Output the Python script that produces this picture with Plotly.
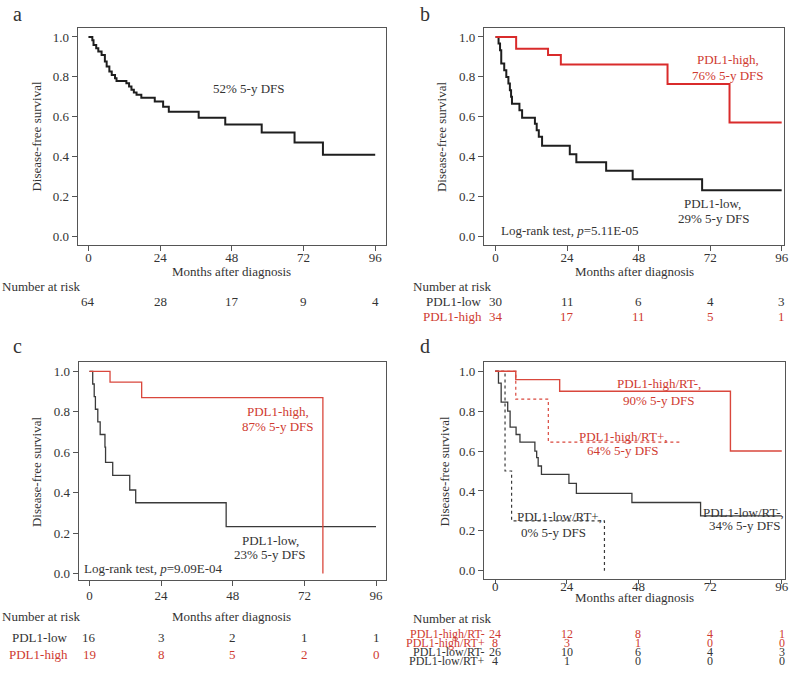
import plotly.graph_objects as go

W, H = 800, 674
FONT = "Liberation Serif, Times New Roman, serif"
TXT = "#333333"
RED_TXT = "#cf3a30"

# ---------------- data ----------------
ticks_month = [0, 24, 48, 72, 96]
y_ticks = [0.0, 0.2, 0.4, 0.6, 0.8, 1.0]

# panel a: all patients
a_t = [1.3, 1.7, 2.6, 3.3, 4.4, 5.5, 6.1, 7.0, 7.8, 8.9, 9.4, 12.7, 13.6, 14.4, 15.2, 16.1, 17.7,
       22.2, 25.0, 26.9, 36.9, 45.8, 58.0, 69.0, 78.5]
a_s = [0.984, 0.96, 0.943, 0.927, 0.91, 0.877, 0.852, 0.827, 0.81, 0.793, 0.78, 0.768, 0.752, 0.735,
       0.722, 0.71, 0.695, 0.677, 0.65, 0.625, 0.595, 0.562, 0.522, 0.472, 0.41]
a_end = 96
a_risk = [64, 28, 17, 9, 4]

# panel b
b_high_t = [6.9, 17.6, 21.9, 57.7, 78.5]
b_high_s = [0.941, 0.91, 0.862, 0.765, 0.572]
b_high_end = 96
b_low_t = [1.0, 1.5, 1.9, 2.9, 3.6, 4.3, 4.8, 5.2, 5.5, 8.0, 8.9, 13.2, 13.8, 14.5, 15.6, 24.9,
           27.1, 37.1, 46.0, 69.3]
b_low_s = [0.967, 0.933, 0.867, 0.833, 0.8, 0.767, 0.733, 0.7, 0.665, 0.633, 0.595, 0.565, 0.533,
           0.5, 0.455, 0.413, 0.372, 0.33, 0.287, 0.232]
b_low_end = 96
b_risk_low = [30, 11, 6, 4, 3]
b_risk_high = [34, 17, 11, 5, 1]

# panel c
c_high_t = [6.9, 17.5, 78.2]
c_high_s = [0.947, 0.87, 0.0]
c_low_t = [1.1, 1.6, 2.0, 2.8, 3.6, 5.2, 5.4, 7.8, 13.5, 15.5, 45.8]
c_low_s = [0.9375, 0.875, 0.8125, 0.75, 0.6875, 0.625, 0.55, 0.485, 0.413, 0.35, 0.232]
c_low_end = 96
c_risk_low = [16, 3, 2, 1, 1]
c_risk_high = [19, 8, 5, 2, 0]

# panel d
d_hm_t = [6.9, 21.6, 78.8]          # PDL1-high/RT-
d_hm_s = [0.958, 0.9, 0.6]
d_hm_end = 96
d_hp_t = [6.9, 17.8]                # PDL1-high/RT+
d_hp_s = [0.86, 0.645]
d_hp_end = 62.7
d_lm_t = [1.1, 2.0, 4.2, 5.0, 7.0, 8.3, 13.3, 13.9, 14.4, 15.5, 24.7, 27.2, 45.8, 68.8]  # PDL1-low/RT-
d_lm_s = [0.94, 0.845, 0.8, 0.72, 0.683, 0.645, 0.6, 0.567, 0.525, 0.483, 0.438, 0.388, 0.342, 0.275]
d_lm_end = 96
d_lp_t = [3.3, 5.5, 36.6]           # PDL1-low/RT+
d_lp_s = [0.5, 0.25, 0.0]
d_risk_names = ["PDL1-high/RT-", "PDL1-high/RT+", "PDL1-low/RT-", "PDL1-low/RT+"]
d_risk = [[24, 12, 8, 4, 1], [8, 3, 1, 0, 0], [26, 10, 6, 4, 3], [4, 1, 0, 0, 0]]

# ---------------- helpers ----------------
def px(x):
    return x / W

def py(y):
    return 1 - y / H

def km(t, s, end=None):
    xs = [0] + list(t)
    ys = [1.0] + list(s)
    if end is not None:
        xs.append(end)
        ys.append(ys[-1])
    return xs, ys

fig = go.Figure()

def add_curve(ax, t, s, end, color, width, dash="solid"):
    xs, ys = km(t, s, end)
    fig.add_trace(go.Scatter(x=xs, y=ys, mode="lines", line=dict(color=color, width=width, shape="hv", dash=dash),
                             xaxis="x" + ax, yaxis="y" + ax, showlegend=False, hoverinfo="skip"))

BLK = "#1e1e1e"
RED = "#d92b2b"
BLK2 = "#3a3a3a"
RED2 = "#d9473c"

add_curve("", a_t, a_s, a_end, BLK, 2.0)
add_curve("2", b_low_t, b_low_s, b_low_end, BLK, 2.0)
add_curve("2", b_high_t, b_high_s, b_high_end, RED, 2.0)
add_curve("3", c_low_t, c_low_s, c_low_end, BLK2, 1.3)
add_curve("3", c_high_t, c_high_s, None, RED2, 1.3)
add_curve("4", d_lm_t, d_lm_s, d_lm_end, BLK2, 1.3)
add_curve("4", d_lp_t, d_lp_s, None, BLK2, 1.2, "dot")
add_curve("4", d_hp_t, d_hp_s, d_hp_end, RED2, 1.2, "dot")
add_curve("4", d_hm_t, d_hm_s, d_hm_end, RED2, 1.4)

# ---------------- axes ----------------
panels = {
    "": dict(box=(78, 388, 28, 245), xr=(-3.66, 99.47), yr=(-0.04, 1.045), so=-4, tl=5),
    "2": dict(box=(487, 789, 28, 245), xr=(-3.9, 96.8), yr=(-0.04, 1.045), so=-4, tl=5),
    "3": dict(box=(79, 388, 363, 581), xr=(-3.66, 99.2), yr=(-0.033, 1.044), so=-2, tl=5),
    "4": dict(box=(487, 790, 363, 580), xr=(-3.76, 97.1), yr=(-0.042, 1.044), so=-9, tl=4),
}
ax_common = dict(showline=True, mirror=True, linecolor="#555555", linewidth=1, ticks="outside",
                 tickcolor="#555555", tickwidth=1, showgrid=False, zeroline=False,
                 tickfont=dict(family=FONT, size=13, color=TXT))
layout_axes = {}
for key, p in panels.items():
    x0, x1, y0, y1 = p["box"]
    xname = "xaxis" + key
    yname = "yaxis" + key
    layout_axes[xname] = dict(ax_common, domain=[px(x0), px(x1)], range=list(p["xr"]), ticklen=p["tl"],
                              tickvals=ticks_month, anchor="y" + key, ticklabelstandoff=p["so"])
    layout_axes[yname] = dict(ax_common, domain=[py(y1), py(y0)], range=list(p["yr"]), ticklen=5,
                              tickvals=y_ticks, tickformat=".1f", anchor="x" + key)
fig.update_layout(**layout_axes)

# ---------------- annotations ----------------
ann = []

def text(x, y, s, size=13, color=TXT, xanchor="center", angle=0):
    ann.append(dict(x=px(x), y=py(y), xref="paper", yref="paper", text=s, showarrow=False,
                    xanchor=xanchor, yanchor="middle", textangle=angle,
                    font=dict(family=FONT, size=size, color=color)))

# panel letters
text(18, 14, "a", 20)
text(428, 14, "b", 20)
text(18, 347, "c", 20)
text(428, 347, "d", 20)

# axis titles
for cx, cy in [(233, 272), (638, 272), (233, 617), (638, 598)]:
    text(cx, cy, "Months after diagnosis")
for cx, cy in [(37, 137), (445, 137), (37, 473), (447, 472)]:
    text(cx, cy, "Disease-free survival", angle=-90)

# in-plot labels
text(251, 89, "52% 5-y DFS")
text(733, 60, "PDL1-high,", color=RED_TXT)
text(733, 76, "76% 5-y DFS", color=RED_TXT)
text(717, 204, "PDL1-low,")
text(718, 219, "29% 5-y DFS")
text(502, 231, "Log-rank test, <i>p</i>=5.11E-05", xanchor="left")

text(280, 412, "PDL1-high,", color=RED_TXT)
text(280, 427, "87% 5-y DFS", color=RED_TXT)
text(272, 541, "PDL1-low,")
text(272, 555, "23% 5-y DFS")
text(83, 569, "Log-rank test, <i>p</i>=9.09E-04", xanchor="left")

text(663, 384, "PDL1-high/RT-,", color=RED_TXT)
text(663, 401, "90% 5-y DFS", color=RED_TXT)
text(627, 437, "PDL1-high/RT+,", color=RED_TXT)
text(627, 451, "64% 5-y DFS", color=RED_TXT)
text(563, 517, "PDL1-low/RT+,")
text(557, 533, "0% 5-y DFS")
text(748, 513, "PDL1-low/RT-,")
text(750, 526, "34% 5-y DFS")

# number at risk tables
text(0, 287, "Number at risk", xanchor="left")
text(414, 287, "Number at risk", xanchor="left")
text(0, 617, "Number at risk", xanchor="left")
text(414, 619, "Number at risk", xanchor="left")

def risk_row(axkey, y, vals, color, size=13):
    for m, v in zip(ticks_month, vals):
        ann.append(dict(x=m, y=py(y), xref="x" + axkey, yref="paper", text=str(v), showarrow=False,
                        xanchor="center", yanchor="middle", font=dict(family=FONT, size=size, color=color)))

risk_row("", 302, a_risk, TXT)

text(487, 302, "PDL1-low", xanchor="right")
text(487, 317, "PDL1-high", xanchor="right", color=RED_TXT)
risk_row("2", 302, b_risk_low, TXT)
risk_row("2", 317, b_risk_high, RED_TXT)

text(70, 638, "PDL1-low", xanchor="right")
text(70, 655, "PDL1-high", xanchor="right", color=RED_TXT)
risk_row("3", 638, c_risk_low, TXT)
risk_row("3", 655, c_risk_high, RED_TXT)

d_rows_y = [635, 644, 653, 662]
d_colors = [RED_TXT, RED_TXT, TXT, TXT]
for name, vals, yy, col in zip(d_risk_names, d_risk, d_rows_y, d_colors):
    text(490, yy, name, size=12, xanchor="right", color=col)
    risk_row("4", yy, vals, col, size=12)

fig.update_layout(annotations=ann, width=W, height=H, margin=dict(l=0, r=0, t=0, b=0),
                  paper_bgcolor="white", plot_bgcolor="white", showlegend=False,
                  font=dict(family=FONT, color=TXT))

fig.write_html("out.html", config={"displayModeBar": False},
               post_script="document.body.style.margin='0px';")
